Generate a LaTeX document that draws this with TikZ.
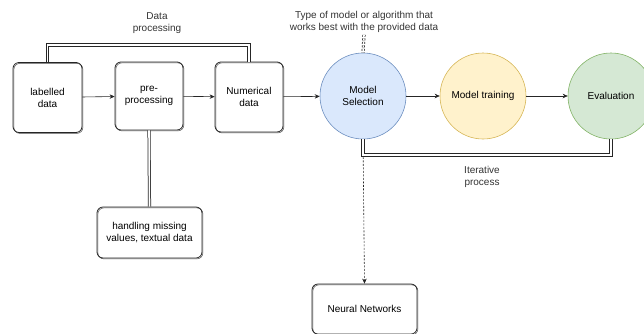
\documentclass[tikz,border=0pt]{standalone}
\usepackage{fontspec}
\setmainfont{Liberation Sans}
\usetikzlibrary{arrows.meta}
\definecolor{selfill}{HTML}{DAE8FC}\definecolor{seldraw}{HTML}{6C8EBF}
\definecolor{trnfill}{HTML}{FFF2CC}\definecolor{trndraw}{HTML}{D6B656}
\definecolor{evafill}{HTML}{D5E8D4}\definecolor{evadraw}{HTML}{82B366}
\tikzset{
  sketch/.style={draw=black!85, rounded corners=6pt, line width=0.8pt, inner sep=0pt, align=center,
    preaction={draw=black!70, line width=0.5pt, transform canvas={xshift=0.9pt,yshift=-0.9pt}}},
  stage/.style={circle, draw, line width=0.6pt, minimum size=86pt, inner sep=0pt, align=center},
  flow/.style={draw=black!85, line width=0.6pt, -{Stealth[length=5pt,width=4.5pt]}},
  dbl/.style={draw=black!85, double=white, double distance=1.6pt, line width=0.75pt},
  lbl/.style={align=center, text=black!80, inner sep=0pt}
}
\begin{document}
\begin{tikzpicture}[x=1pt, y=-1pt, font=\fontsize{10}{12}\selectfont]
			%%%%% START %%%%%
			\useasboundingbox (0,0) rectangle (644,333);
			
			% data side
			\node[sketch, minimum width=69pt, minimum height=70pt] (lab) at (47.5,97.5) {labelled\\data};
			\node[sketch, minimum width=68pt, minimum height=68pt] (pre) at (149,96) {pre-\\processing};
			\node[sketch, minimum width=68pt, minimum height=70pt] (num) at (249,97) {Numerical\\data};
			\node[sketch, minimum width=105pt, minimum height=51pt] (miss) at (149.5,232.5) {handling missing\\values, textual data};
			
			% model side
			\node[stage, fill=selfill, draw=seldraw] (sel) at (363,96) {Model\\Selection};
			\node[stage, fill=trnfill, draw=trndraw] (trn) at (483,96) {Model training};
			\node[stage, fill=evafill, draw=evadraw] (eva) at (611,96) {Evaluation};
			\node[sketch, minimum width=105pt, minimum height=50pt] (nn) at (364.5,309) {Neural Networks};
			
			% labels
			\node[lbl] (dptext) at (157,23) {Data\\processing};
			\node[lbl] (typetext) at (364,22) {Type of model or algorithm that\\works best with the provided data};
			\node[lbl] (itertext) at (482,177) {Iterative\\process};
			\coordinate (dpl) at (47.5,45);
			\coordinate (dpr) at (249,45);
			\coordinate (itl) at (363,155);
			\coordinate (itr) at (611,155);
			
			% arrows
			\draw[flow] (lab) -- (pre);
			\draw[flow] (pre) -- (num);
			\draw[flow] (num) -- (sel);
			\draw[flow] (sel) -- (trn);
			\draw[flow] (trn) -- (eva);
			\draw[flow, dash pattern=on 2pt off 1.5pt] (sel.south) -- (nn.north);
			
			% double links
			\draw[dbl] (lab.north) -- (dpl) -- (dpr) -- (num.north);
			\draw[dbl] (pre.south) -- (miss.north);
			\draw[dbl] (sel.south) -- (itl) -- (itr) -- (eva.south);
			\draw[dbl, dash pattern=on 2pt off 1.5pt] (typetext.south) ++(0,2) -- (sel.north);
			
			%%%%% END %%%%%
\end{tikzpicture}
\end{document}
